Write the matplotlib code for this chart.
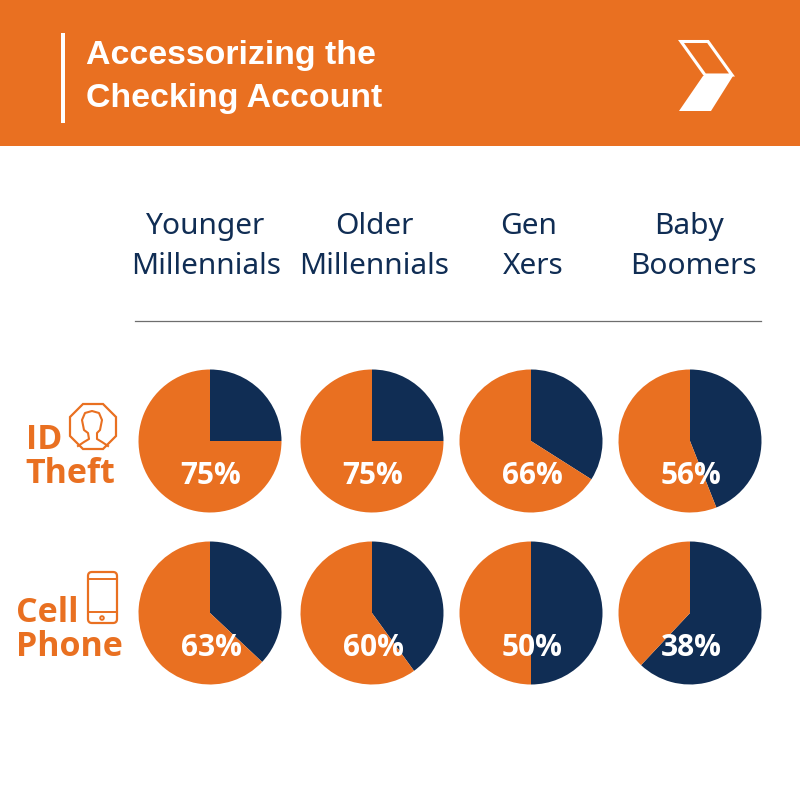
import matplotlib.pyplot as plt
from matplotlib.patches import Circle, FancyBboxPatch, Polygon, Rectangle

ORANGE = '#E97021'
NAVY = '#102D54'

title_lines = ['Accessorizing the', 'Checking Account']
header_top = ['Younger', 'Older', 'Gen', 'Baby']
header_bottom = ['Millennials', 'Millennials', 'Xers', 'Boomers']
id_theft = [75, 75, 66, 56]
cell_phone = [63, 60, 50, 38]

column_x = [210, 372, 531, 690]
top_x = [206, 374, 529, 689]
bottom_x = [206, 374, 533, 693]
row_y = [441, 613]


def Y(py):
    # everything below is laid out in pixels from the top
    return 800 - py


fig = plt.figure(figsize=(8, 8), dpi=100)
ax = fig.add_axes([0, 0, 1, 1])
ax.set_xlim(0, 800)
ax.set_ylim(0, 800)
ax.axis('off')

# banner
ax.add_patch(Rectangle((0, Y(146)), 800, 146, color=ORANGE, lw=0))
ax.add_patch(Rectangle((61, Y(123)), 4, 90, color='white', lw=0))
for line, py in zip(title_lines, [64, 107]):
    ax.text(86, Y(py), line, color='white', fontsize=24.4, fontweight='bold',
            family='Liberation Sans', va='baseline', ha='left')

# chevron logo
ax.add_patch(Polygon([(681, Y(41.5)), (708, Y(41.5)), (732, Y(75)), (705, Y(75))],
                     closed=True, fc='none', ec='white', lw=2.2))
ax.add_patch(Polygon([(703, Y(76)), (733, Y(76)), (711, Y(111)), (679, Y(111))],
                     closed=True, fc='white', ec='none'))

# column headers
for x, name in zip(top_x, header_top):
    ax.text(x, Y(234), name, color=NAVY, fontsize=21.5, family='Noto Sans', ha='center', va='baseline')
for x, name in zip(bottom_x, header_bottom):
    ax.text(x, Y(274), name, color=NAVY, fontsize=21.5, family='Noto Sans', ha='center', va='baseline')

ax.plot([135, 761], [Y(320.5), Y(320.5)], color='#6E6E6E', lw=0.9)

# pies, navy wedge starts at 12 o'clock and runs clockwise
for py, values in zip(row_y, [id_theft, cell_phone]):
    for x, value in zip(column_x, values):
        ax.pie([100 - value, value], colors=[NAVY, ORANGE], center=(x, Y(py)), radius=71.5,
               startangle=90, counterclock=False, frame=False,
               wedgeprops={'linewidth': 0})
        ax.text(x + 1, Y(py + 43), f'{value}%', color='white', fontsize=21.5, fontweight='bold',
                family='Open Sans', ha='center', va='baseline')

ax.set_xlim(0, 800)
ax.set_ylim(0, 800)
ax.set_aspect('auto')
ax.axis('off')

# row labels
for label, x, py in [('ID', 26, 449), ('Theft', 25, 483), ('Cell', 16, 622), ('Phone', 16, 656)]:
    ax.text(x, Y(py), label, color=ORANGE, fontsize=24.5, fontweight='bold', family='Open Sans',
            ha='left', va='baseline')

# octagon head icon
octagon = [(83, 404), (103, 404), (116, 417), (116, 436), (103, 449), (83, 449), (70, 436), (70, 417)]
ax.add_patch(Polygon([(px, Y(py)) for px, py in octagon], closed=True, fc='none', ec=ORANGE, lw=1.6))
head = [(78, 446), (84, 442), (89, 439), (88, 433), (84, 430), (82, 420), (85, 413), (92, 411),
        (99, 413), (102, 420), (100, 430), (97, 433), (97, 439), (102, 442), (108, 446)]
ax.plot([p[0] for p in head], [Y(p[1]) for p in head], color=ORANGE, lw=1.5)

# phone icon
ax.add_patch(FancyBboxPatch((88, Y(623)), 29, 51, boxstyle='round,pad=0,rounding_size=4',
                            fc='none', ec=ORANGE, lw=1.6))
ax.plot([88, 117], [Y(578.5), Y(578.5)], color=ORANGE, lw=1.4)
ax.plot([88, 117], [Y(612), Y(612)], color=ORANGE, lw=1.4)
ax.add_patch(Circle((102, Y(618)), 1.8, fc='none', ec=ORANGE, lw=1.4))

fig.savefig('out.png', dpi=100, facecolor='white')
